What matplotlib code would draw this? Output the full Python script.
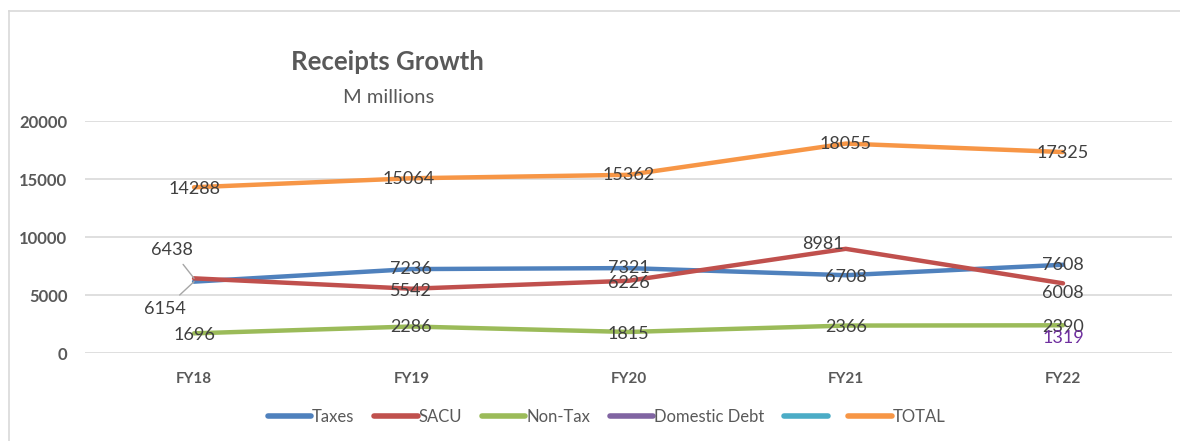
import matplotlib
matplotlib.use("Agg")
import matplotlib.pyplot as plt
import numpy as np
from matplotlib.lines import Line2D

plt.rcParams['font.family'] = ['Lato', 'DejaVu Sans']

categories = ["FY18", "FY19", "FY20", "FY21", "FY22"]
taxes = [6154, 7236, 7321, 6708, 7608]
sacu = [6438, 5542, 6226, 8981, 6008]
non_tax = [1696, 2286, 1815, 2366, 2390]
domestic_debt = [np.nan, np.nan, np.nan, np.nan, 1319]
blank_series = [np.nan, np.nan, np.nan, np.nan, np.nan]
total = [14288, 15064, 15362, 18055, 17325]

series_names = ["Taxes", "SACU", "Non-Tax", "Domestic Debt", "", "TOTAL"]
series_values = [taxes, sacu, non_tax, domestic_debt, blank_series, total]
colors = ["#4F81BD", "#C0504D", "#9BBB59", "#8064A2", "#4BACC6", "#F79646"]

# label offsets in pixels (dx, dy)
offsets = {
    0: [(-29, -27), (0, 0), (0, 0), (0, -2), (0, 0)],
    1: [(-22, 28), (0, -2), (0, -2), (-23, 5), (0, -10)],
    2: [(0, -2), (0, 0), (0, -2), (0, -1), (0, -2)],
    3: [(0, 0)] * 5,
    4: [(0, 0)] * 5,
    5: [(0, -2), (-3, -1), (0, 0), (0, 0), (0, -1)],
}
leaders = {(0, 0), (1, 0)}

fig = plt.figure(figsize=(11.8, 4.41), dpi=100)
ax = fig.add_axes([0.0724, 0.1995, 0.9205, 0.5261])

x = np.arange(len(categories))
handles = []
for i, vals in enumerate(series_values):
    (h,) = ax.plot(x, vals, color=colors[i], lw=3.2, solid_capstyle='round',
                   label=series_names[i] if series_names[i] else " ", zorder=3)
    handles.append(h)

for i, vals in enumerate(series_values):
    lab_color = "#7030A0" if i == 3 else "#404040"
    for j, v in enumerate(vals):
        if np.isnan(v):
            continue
        dx, dy = offsets[i][j]
        kw = {}
        if (i, j) in leaders:
            kw['arrowprops'] = dict(arrowstyle='-', color='#A6A6A6', lw=1,
                                    shrinkA=3, shrinkB=0)
        ax.annotate(f"{int(v)}", xy=(x[j], v), xytext=(dx, dy),
                    textcoords='offset pixels', ha='center', va='center',
                    fontsize=13, color=lab_color, zorder=5, **kw)

ax.set_xlim(-0.5, 4.5)
ax.set_ylim(0, 20000)
ax.set_yticks([0, 5000, 10000, 15000, 20000])
ax.set_xticks(x)
ax.set_xticklabels(categories)
ax.grid(axis='y', color='#D9D9D9', lw=1.2, zorder=0)
ax.set_axisbelow(True)
for s in ax.spines.values():
    s.set_visible(False)
ax.tick_params(axis='both', length=0, labelcolor='#595959')
ax.tick_params(axis='y', pad=13, labelsize=12)
ax.tick_params(axis='x', pad=14, labelsize=11)
for t in ax.get_xticklabels() + ax.get_yticklabels():
    t.set_fontweight('bold')

fig.text(0.328, 0.859, "Receipts Growth", ha='center', va='center',
         fontsize=18.5, fontweight='bold', color='#595959')
fig.text(0.329, 0.778, "M millions", ha='center', va='center',
         fontsize=14.5, color='#595959')

leg = fig.legend(handles=handles, labels=list(series_names),
                 loc='center', bbox_to_anchor=(0.514, 0.054), ncol=6,
                 frameon=False, fontsize=12, handlelength=2.6,
                 handletextpad=0.05, columnspacing=1.2)
for t in leg.get_texts():
    t.set_color('#595959')
for l in leg.get_lines():
    l.set_linewidth(4)

# chart border (top and left)
fig.add_artist(Line2D([9/1180, 1.0], [1 - 11/441, 1 - 11/441], color='#D9D9D9', lw=1.2,
                      transform=fig.transFigure))
fig.add_artist(Line2D([9/1180, 9/1180], [0, 1 - 11/441], color='#D9D9D9', lw=1.2,
                      transform=fig.transFigure))

fig.savefig("out.png", dpi=100)
